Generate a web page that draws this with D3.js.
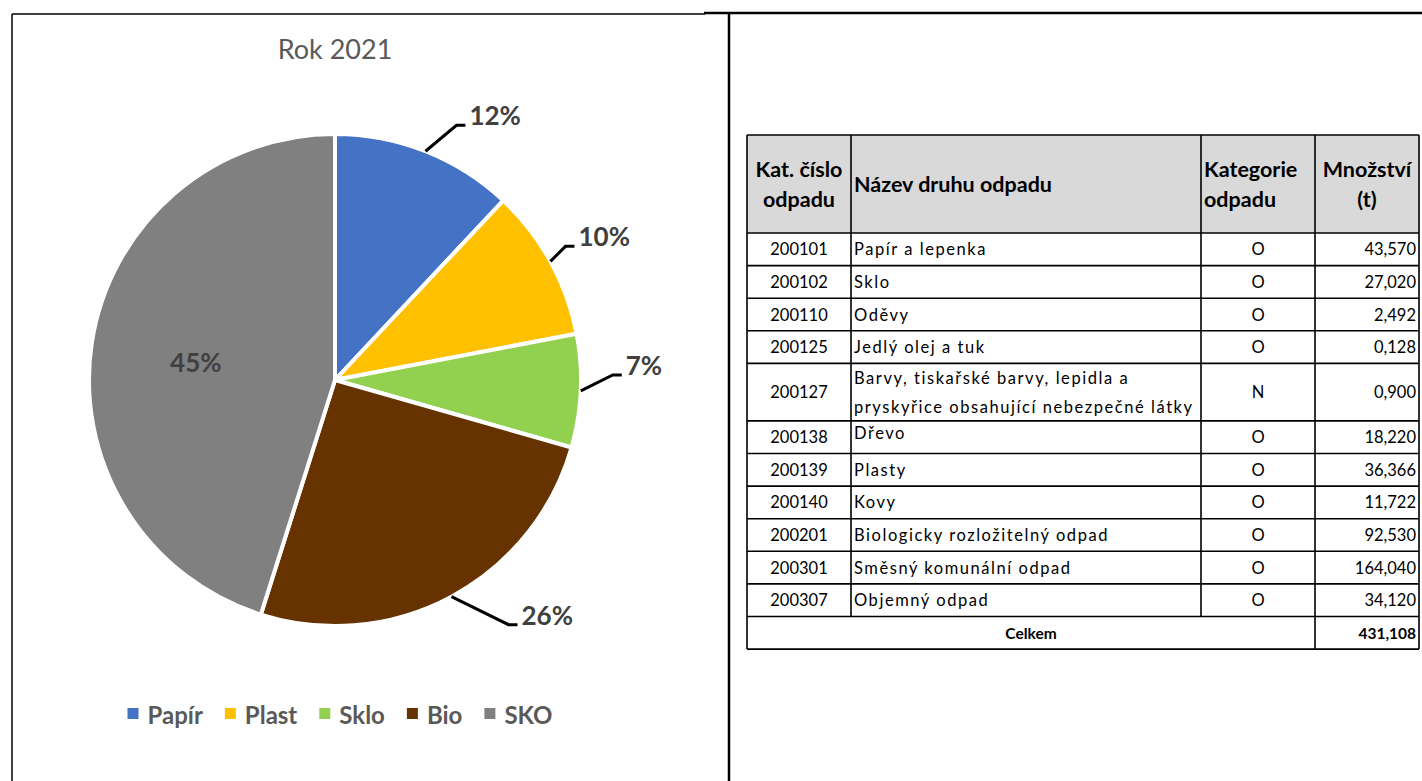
<!DOCTYPE html>
<html>
<head>
<meta charset="utf-8">
<script src="https://cdn.jsdelivr.net/npm/d3@7"></script>
<style>
  body { margin: 0; background: #fff; }
  svg { display: block; font-family: Lato, "Noto Sans", sans-serif; }
</style>
</head>
<body>
<svg id="page" width="1422" height="781"></svg>
<script>
// pie data (Rok 2021)
var pieCategories = ["Papír", "Plast", "Sklo", "Bio", "SKO"];
var pieValues = [43.570, 36.366, 27.020, 92.530, 164.040];
var pieLabels = ["12%", "10%", "7%", "26%", "45%"];
var pieColors = ["#4472C4", "#FFC000", "#92D050", "#663300", "#808080"];

// table data
var tableHeaders = [["Kat. číslo", "odpadu"], ["Název druhu odpadu"], ["Kategorie", "odpadu"], ["Množství", "(t)"]];
var wasteCodes = ["200101", "200102", "200110", "200125", "200127", "200138", "200139", "200140", "200201", "200301", "200307"];
var wasteNames = [
    ["Papír a lepenka"], ["Sklo"], ["Oděvy"], ["Jedlý olej a tuk"],
    ["Barvy, tiskařské barvy, lepidla a", "pryskyřice obsahující nebezpečné látky"],
    ["Dřevo"], ["Plasty"], ["Kovy"], ["Biologicky rozložitelný odpad"],
    ["Směsný komunální odpad"], ["Objemný odpad"]
];
var wasteCats = ["O", "O", "O", "O", "N", "O", "O", "O", "O", "O", "O"];
var wasteAmounts = [43.570, 27.020, 2.492, 0.128, 0.900, 18.220, 36.366, 11.722, 92.530, 164.040, 34.120];

var svg = d3.select("#page");
var cz = d3.formatLocale({decimal: ",", thousands: "", grouping: [3], currency: ["", " Kč"]});
var fmt = cz.format(".3f");

//// page frame lines
svg.append("line").attr("x1", 12).attr("x2", 705).attr("y1", 14).attr("y2", 14)
    .attr("stroke", "#000").attr("stroke-width", 1.5);
svg.append("line").attr("x1", 704).attr("x2", 1422).attr("y1", 13).attr("y2", 13)
    .attr("stroke", "#000").attr("stroke-width", 2.5);
svg.append("line").attr("x1", 12).attr("x2", 12).attr("y1", 14).attr("y2", 781)
    .attr("stroke", "#000").attr("stroke-width", 1.5);
svg.append("line").attr("x1", 729).attr("x2", 729).attr("y1", 13).attr("y2", 781)
    .attr("stroke", "#000").attr("stroke-width", 2.5);

//// PIE
var cx = 335, cy = 380, r = 246;
var g = svg.append("g").attr("transform", "translate(" + cx + "," + cy + ")");

svg.append("text").attr("x", cx).attr("y", 59).attr("text-anchor", "middle")
    .style("font-size", "27px").style("fill", "#595959").text("Rok 2021");

var pie = d3.pie().sort(null).value(d => d)(pieValues);
var arc = d3.arc().innerRadius(0).outerRadius(r);

g.selectAll("path.slice").data(pie).enter().append("path")
    .attr("class", "slice")
    .attr("d", arc)
    .attr("fill", (d, i) => pieColors[i])
    .attr("stroke", "#fff")
    .attr("stroke-width", 4)
    .attr("stroke-linejoin", "round");

// outside labels with leader lines (offsets of the elbow from the slice edge)
var labelOffsets = [[31, -26], [15, -15], [32, -16], [57, 28]];
pie.forEach(function(d, i) {
    var mid = (d.startAngle + d.endAngle) / 2;
    if (i == 4) {
        var rr = r * 0.585;
        g.append("text").attr("x", Math.sin(mid) * rr + 3).attr("y", -Math.cos(mid) * rr + 4)
            .attr("text-anchor", "middle").attr("dominant-baseline", "central")
            .style("font-size", "26px").style("font-weight", "bold").style("fill", "#404040")
            .text(pieLabels[i]);
        return;
    }
    var ex = Math.sin(mid) * r, ey = -Math.cos(mid) * r;
    var bx = ex + labelOffsets[i][0], by = ey + labelOffsets[i][1];
    g.append("polyline")
        .attr("points", [[ex, ey], [bx, by], [bx + 9, by]].map(p => p.join(",")).join(" "))
        .attr("fill", "none").attr("stroke", "#000").attr("stroke-width", 3);
    g.append("text").attr("x", bx + 13).attr("y", by)
        .style("font-size", "26px").style("font-weight", "bold").style("fill", "#404040")
        .text(pieLabels[i]);
});

// legend
var leg = svg.append("g");
var lx = 0;
pieCategories.forEach(function(c, i) {
    var item = leg.append("g").attr("transform", "translate(" + lx + ",0)");
    item.append("rect").attr("x", 0).attr("y", -6).attr("width", 11).attr("height", 11)
        .attr("fill", pieColors[i]);
    var t = item.append("text").attr("x", 20).attr("y", 0).attr("dominant-baseline", "central")
        .style("font-size", "24px").style("font-weight", "bold").style("fill", "#595959").text(c);
    lx += 20 + t.node().getComputedTextLength() + 22;
});
var legW = lx - 22;
leg.attr("transform", "translate(" + (cx + 5 - legW / 2) + ",714)");

//// TABLE
var colX = [747, 851, 1201, 1315, 1419];
var headTop = 135, headH = 98, rowH = 32.6, dblH = 57.5;
var tbl = svg.append("g").style("font-size", "16.5px").style("fill", "#000");

var rowTops = [];
var yy = headTop + headH;
wasteNames.forEach(function(n) {
    rowTops.push(yy);
    yy += n.length > 1 ? dblH : rowH;
});
var totalTop = yy, tableBottom = yy + rowH;

// header fill
tbl.append("rect").attr("x", colX[0]).attr("y", headTop).attr("width", colX[4] - colX[0])
    .attr("height", headH).attr("fill", "#D9D9D9");

// header text
var headAlign = ["middle", "start", "start", "middle"];
tableHeaders.forEach(function(h, j) {
    var x = headAlign[j] == "middle" ? (colX[j] + colX[j + 1]) / 2 : colX[j] + 3;
    var midY = headTop + headH / 2;
    h.forEach(function(line, k) {
        tbl.append("text").attr("x", x).attr("y", midY + (k - (h.length - 1) / 2) * 30)
            .attr("text-anchor", headAlign[j]).attr("dominant-baseline", "central")
            .style("font-size", "21.5px").style("font-weight", "bold").text(line);
    });
});

// body rows
wasteCodes.forEach(function(code, i) {
    var top = rowTops[i];
    var h = wasteNames[i].length > 1 ? dblH : rowH;
    var mid = top + h / 2;
    tbl.append("text").attr("x", (colX[0] + colX[1]) / 2).attr("y", mid)
        .attr("text-anchor", "middle").attr("dominant-baseline", "central").text(code);
    wasteNames[i].forEach(function(line, k) {
        tbl.append("text").attr("x", colX[1] + 3)
            .attr("y", mid + (k - (wasteNames[i].length - 1) / 2) * 29 + (code == "200138" ? -4 : 0))
            .attr("dominant-baseline", "central").style("letter-spacing", "1.55px").text(line);
    });
    tbl.append("text").attr("x", (colX[2] + colX[3]) / 2).attr("y", mid)
        .attr("text-anchor", "middle").attr("dominant-baseline", "central").text(wasteCats[i]);
    tbl.append("text").attr("x", colX[4] - 3).attr("y", mid)
        .attr("text-anchor", "end").attr("dominant-baseline", "central").text(fmt(wasteAmounts[i]));
});

// total row
tbl.append("text").attr("x", (colX[0] + colX[3]) / 2).attr("y", totalTop + rowH / 2)
    .attr("text-anchor", "middle").attr("dominant-baseline", "central")
    .style("font-size", "15.5px").style("font-weight", "bold").text("Celkem");
tbl.append("text").attr("x", colX[4] - 3).attr("y", totalTop + rowH / 2)
    .attr("text-anchor", "end").attr("dominant-baseline", "central")
    .style("font-size", "15.5px").style("font-weight", "bold").text(fmt(d3.sum(wasteAmounts)));

// grid lines
var hLines = [headTop, headTop + headH].concat(rowTops.slice(1), [totalTop, tableBottom]);
tbl.selectAll("line.h").data(hLines).enter().append("line").attr("class", "h")
    .attr("x1", colX[0]).attr("x2", colX[4]).attr("y1", d => d).attr("y2", d => d)
    .attr("stroke", "#000").attr("stroke-width", 1.6);
tbl.selectAll("line.v").data(colX).enter().append("line").attr("class", "v")
    .attr("x1", d => d).attr("x2", d => d).attr("y1", headTop)
    .attr("y2", (d, i) => (i == 0 || i >= 3) ? tableBottom : totalTop)
    .attr("stroke", "#000").attr("stroke-width", 1.6);
</script>
</body>
</html>
